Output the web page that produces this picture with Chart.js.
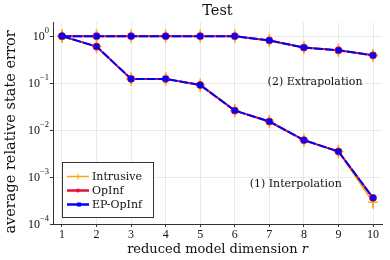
<!DOCTYPE html>
<html>
<head>
<meta charset="utf-8">
<script src="https://cdn.jsdelivr.net/npm/chart.js@4"></script>
<style>
  html, body { margin: 0; padding: 0; background: #fff; }
  #wrap { width: 390px; height: 260px; }
</style>
</head>
<body>
<div id="wrap"><canvas id="c" width="390" height="260"></canvas></div>
<script>
// reduced model dimension r
const dims = [1, 2, 3, 4, 5, 6, 7, 8, 9, 10];

// (1) interpolation
const intrusiveInterp = [1.0, 0.60, 0.123, 0.123, 0.091, 0.026, 0.0152, 0.0061, 0.0035, 0.00029];
const opinfInterp     = [1.0, 0.60, 0.123, 0.123, 0.091, 0.026, 0.0152, 0.0061, 0.0035, 0.00036];
const epopinfInterp   = [1.0, 0.60, 0.123, 0.123, 0.091, 0.026, 0.0152, 0.0061, 0.0035, 0.00036];
const intrusiveInterpLo = [0.72, 0.43, 0.088, 0.088, 0.065, 0.0186, 0.0109, 0.0044, 0.0025, 0.00021];
const intrusiveInterpHi = [1.39, 0.83, 0.171, 0.171, 0.126, 0.036, 0.0211, 0.0085, 0.0049, 0.00040];

// (2) extrapolation
const intrusiveExtrap = [1.0, 1.0, 1.0, 1.0, 1.0, 1.0, 0.81, 0.57, 0.50, 0.39];
const opinfExtrap     = [1.0, 1.0, 1.0, 1.0, 1.0, 1.0, 0.81, 0.57, 0.50, 0.39];
const epopinfExtrap   = [1.0, 1.0, 1.0, 1.0, 1.0, 1.0, 0.81, 0.57, 0.50, 0.39];
const intrusiveExtrapLo = [0.72, 0.72, 0.72, 0.72, 0.72, 0.72, 0.58, 0.41, 0.36, 0.28];
const intrusiveExtrapHi = [1.39, 1.39, 1.39, 1.39, 1.39, 1.39, 1.13, 0.79, 0.70, 0.54];

const yTicks = [1e-4, 1e-3, 1e-2, 1e-1, 1];
const yExponents = ['-4', '-3', '-2', '-1', '0'];

const notes = [
  {x: 6.95, y: 0.105, text: '(2) Extrapolation'},
  {x: 6.43, y: 0.0007, text: '(1) Interpolation'}
];

const ORANGE = '#FFA500', RED = '#DC143C', BLUE = '#0000FF';
const SERIF = '"DejaVu Serif", serif';
const DIGITS = '"Liberation Serif", serif';
const INK = '#111';

const pts = arr => dims.map((d, i) => ({x: d, y: arr[i]}));

function lineSet(data, color, width, style, radius, order, dash, errLo, errHi) {
  return {
    data: pts(data),
    order: order,
    borderColor: color,
    backgroundColor: color,
    borderWidth: width,
    borderDash: dash || [],
    pointStyle: style,
    pointRadius: radius,
    pointBorderWidth: style === 'cross' ? 1.6 : 1,
    pointBorderColor: style === 'cross' ? 'rgba(255,165,0,0.9)' : color,
    pointHoverRadius: radius,
    tension: 0,
    errLo: errLo,
    errHi: errHi
  };
}

// higher order is drawn first (underneath)
const datasets = [
  lineSet(intrusiveInterp, ORANGE, 1.5, 'cross', 5, 3, null, intrusiveInterpLo, intrusiveInterpHi),
  lineSet(intrusiveExtrap, ORANGE, 1.5, 'cross', 5, 3, null, intrusiveExtrapLo, intrusiveExtrapHi),
  lineSet(opinfInterp, RED, 2, 'circle', 3.5, 2),
  lineSet(opinfExtrap, RED, 2, 'circle', 3.5, 2),
  lineSet(epopinfInterp, BLUE, 2, 'rect', 3.2, 1, [9, 2]),
  lineSet(epopinfExtrap, BLUE, 2, 'rect', 3.2, 1, [9, 2])
];

// error bars for the Intrusive series
const errorBars = {
  id: 'errorBars',
  beforeDatasetsDraw(chart) {
    const ctx = chart.ctx, xs = chart.scales.x, ys = chart.scales.y;
    ctx.save();
    ctx.strokeStyle = 'rgba(255,165,0,0.85)';
    ctx.lineWidth = 1.6;
    chart.data.datasets.forEach(ds => {
      if (!ds.errLo) return;
      ds.data.forEach((p, i) => {
        const px = xs.getPixelForValue(p.x);
        ctx.beginPath();
        ctx.moveTo(px, ys.getPixelForValue(ds.errLo[i]));
        ctx.lineTo(px, ys.getPixelForValue(ds.errHi[i]));
        ctx.stroke();
      });
    });
    ctx.restore();
  }
};

// tick labels with exponents, titles, notes and legend
const decorations = {
  id: 'decorations',
  afterDraw(chart) {
    const ctx = chart.ctx, xs = chart.scales.x, ys = chart.scales.y, a = chart.chartArea;
    ctx.save();
    ctx.fillStyle = INK;

    // y tick labels 10^k
    yTicks.forEach((v, i) => {
      const py = ys.getPixelForValue(v);
      ctx.textAlign = 'right';
      ctx.textBaseline = 'middle';
      const exp = yExponents[i].replace('-', '\u2212');
      ctx.font = '8.5px ' + DIGITS;
      const ew = ctx.measureText(exp).width;
      ctx.fillText(exp, a.left - 4, py - 5);
      ctx.font = '12px ' + DIGITS;
      ctx.fillText('10', a.left - 4 - ew, py + 1);
    });

    // x tick labels
    ctx.font = '12px ' + DIGITS;
    ctx.textAlign = 'center';
    ctx.textBaseline = 'middle';
    dims.forEach(d => ctx.fillText(String(d), xs.getPixelForValue(d), a.bottom + 11));

    // x axis title with italic r
    const cx = (a.left + a.right) / 2;
    ctx.font = '13px ' + SERIF;
    const main = 'reduced model dimension ';
    const mw = ctx.measureText(main).width;
    ctx.font = 'italic 13px ' + SERIF;
    const rw = ctx.measureText('r').width;
    const x0 = cx - (mw + rw) / 2;
    ctx.textAlign = 'left';
    ctx.font = '13px ' + SERIF;
    ctx.fillText(main, x0, 250);
    ctx.font = 'italic 13px ' + SERIF;
    ctx.fillText('r', x0 + mw, 250);

    // y axis title
    ctx.save();
    ctx.translate(11, 132);
    ctx.rotate(-Math.PI / 2);
    ctx.textAlign = 'center';
    ctx.font = '14.5px ' + SERIF;
    ctx.fillText('average relative state error', 0, 0);
    ctx.restore();

    // title
    ctx.textAlign = 'center';
    ctx.font = '14.5px ' + SERIF;
    ctx.fillText('Test', cx, 11);

    // notes
    ctx.textAlign = 'left';
    ctx.font = '11px ' + SERIF;
    notes.forEach(n => ctx.fillText(n.text, xs.getPixelForValue(n.x), ys.getPixelForValue(n.y)));

    // legend
    const lx = 62.5, ly = 162.5, lw = 91, lh = 55;
    ctx.fillStyle = '#fff';
    ctx.fillRect(lx, ly, lw, lh);
    ctx.strokeStyle = '#333';
    ctx.lineWidth = 1;
    ctx.strokeRect(lx, ly, lw, lh);
    const items = [
      {label: 'Intrusive', color: ORANGE, width: 1.5, style: 'cross', y: 176.5},
      {label: 'OpInf', color: RED, width: 2.5, style: 'circle', y: 190.5},
      {label: 'EP-OpInf', color: BLUE, width: 2.5, style: 'rect', y: 204.5}
    ];
    items.forEach(it => {
      ctx.strokeStyle = it.color;
      ctx.fillStyle = it.color;
      ctx.lineWidth = it.width;
      ctx.beginPath();
      ctx.moveTo(67, it.y);
      ctx.lineTo(89, it.y);
      ctx.stroke();
      ctx.lineWidth = 1;
      if (it.style === 'cross') {
        ctx.beginPath();
        ctx.moveTo(78, it.y - 3); ctx.lineTo(78, it.y + 3);
        ctx.stroke();
      } else if (it.style === 'circle') {
        ctx.beginPath();
        ctx.arc(78, it.y, 2, 0, Math.PI * 2);
        ctx.fill();
      } else {
        ctx.fillRect(77, it.y - 2, 4, 4);
      }
      ctx.fillStyle = INK;
      ctx.font = '11px ' + SERIF;
      ctx.textAlign = 'left';
      ctx.textBaseline = 'middle';
      ctx.fillText(it.label, 92, it.y + 0.5);
    });

    ctx.restore();
  }
};

new Chart(document.getElementById('c'), {
  type: 'line',
  data: { datasets: datasets },
  plugins: [errorBars, decorations],
  options: {
    responsive: false,
    animation: false,
    devicePixelRatio: 1,
    layout: { padding: { top: 22, right: 8, left: 0, bottom: 0 } },
    plugins: { legend: { display: false }, title: { display: false }, tooltip: { enabled: false } },
    scales: {
      x: {
        type: 'linear',
        min: 0.74,
        max: 10.26,
        afterBuildTicks: s => { s.ticks = dims.map(v => ({value: v})); },
        afterFit: s => { s.height = 36; },
        ticks: { display: false },
        grid: { color: 'rgba(0,0,0,0.08)', drawTicks: true, tickLength: 3, tickColor: '#333' },
        border: { color: '#333', width: 1 }
      },
      y: {
        type: 'logarithmic',
        min: 1e-4,
        max: 2.0,
        afterBuildTicks: s => { s.ticks = yTicks.map(v => ({value: v})); },
        afterFit: s => { s.width = 53; },
        ticks: { display: false },
        grid: { color: 'rgba(0,0,0,0.08)', drawTicks: true, tickLength: 3, tickColor: '#333' },
        border: { color: '#333', width: 1 }
      }
    }
  }
});
</script>
</body>
</html>
